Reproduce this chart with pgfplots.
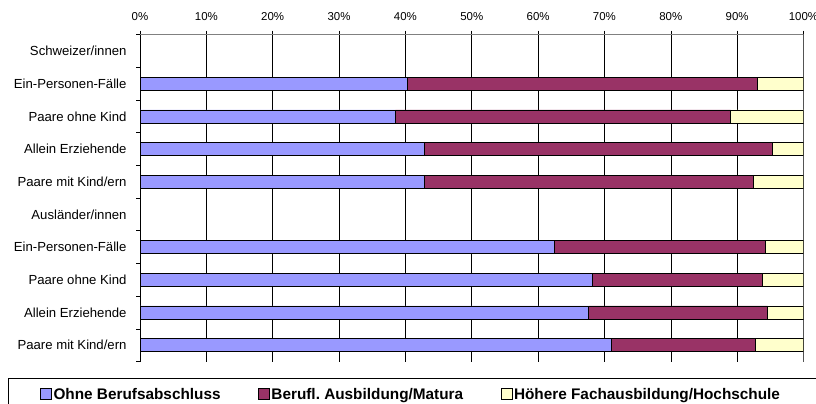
\documentclass[border=0pt]{standalone}
\usepackage{pgfplots}
\pgfplotsset{compat=1.18}
\usepackage{fontspec}
\setmainfont{Liberation Sans}
\definecolor{cblue}{HTML}{9999FF}
\definecolor{cpurple}{HTML}{993366}
\definecolor{cyellow}{HTML}{FFFFCC}
\begin{document}
\frenchspacing
\begin{tikzpicture}[x=1bp,y=1bp]
\useasboundingbox (0,0) rectangle (816,403);
\draw[black, line width=0.9bp] (8,-10) -- (8,25) -- (830,25);
\begin{axis}[
  at={(140bp,41.5bp)}, anchor=south west,
  width=663.5bp, height=326.8bp, scale only axis,
  xbar stacked, bar width=13bp,
  xmin=0, xmax=100, ymin=-0.5, ymax=9.5, y dir=reverse,
  axis x line*=top, axis y line*=left,
  axis line style={black, line width=0.8bp, -},
  xtick={0,10,...,100},
  xticklabel={\pgfmathprintnumber{\tick}\%},
  xticklabel style={font=\fontsize{11.5}{12}\selectfont, yshift=7bp},
  xmajorgrids, major grid style={black, line width=0.6bp},
  ytick={-0.5,0.5,...,9.5}, yticklabels={},
  extra y ticks={0,1,2,3,4,5,6,7,8,9},
  extra y tick labels={Schweizer/innen, Ein-Personen-Fälle, Paare ohne Kind, Allein Erziehende, Paare mit Kind/ern, Ausländer/innen, Ein-Personen-Fälle, Paare ohne Kind, Allein Erziehende, Paare mit Kind/ern},
  extra y tick style={tick style={draw=none}, yticklabel style={font=\fontsize{13.2}{14}\selectfont, xshift=-6bp}},
  tick align=outside, major tick length=4bp,
  tick style={black, line width=0.6bp},
  /pgf/number format/assume math mode=true,
  legend columns=3,
  legend style={at={(axis description cs:-0.1507,-0.1005)}, anchor=west, draw=none, fill=none, inner sep=0pt,
    font=\bfseries\fontsize{15.4}{17}\selectfont,
    /tikz/every even column/.append style={column sep=36bp},
    nodes={inner sep=1.5bp}},
  legend cell align=left,
  legend image code/.code={\draw[#1, draw=black, line width=0.8bp] (0bp,-5.5bp) rectangle (11bp,5.5bp);},
]
\addplot[fill=cblue, draw=black, line width=0.8bp] coordinates {(40.3,1) (38.5,2) (42.9,3) (42.8,4) (62.5,6) (68.2,7) (67.6,8) (71.0,9)};
\addplot[fill=cpurple, draw=black, line width=0.8bp] coordinates {(52.7,1) (50.5,2) (52.4,3) (49.6,4) (31.8,6) (25.6,7) (27.0,8) (21.8,9)};
\addplot[fill=cyellow, draw=black, line width=0.8bp] coordinates {(7.0,1) (11.0,2) (4.7,3) (7.6,4) (5.7,6) (6.2,7) (5.4,8) (7.2,9)};
\legend{Ohne Berufsabschluss, Berufl. Ausbildung/Matura, Höhere Fachausbildung/Hochschule}
\draw[gray, line width=0.8bp] (rel axis cs:0,1) -- (rel axis cs:1,1) -- (rel axis cs:1,0);
\end{axis}
\end{tikzpicture}
\end{document}
